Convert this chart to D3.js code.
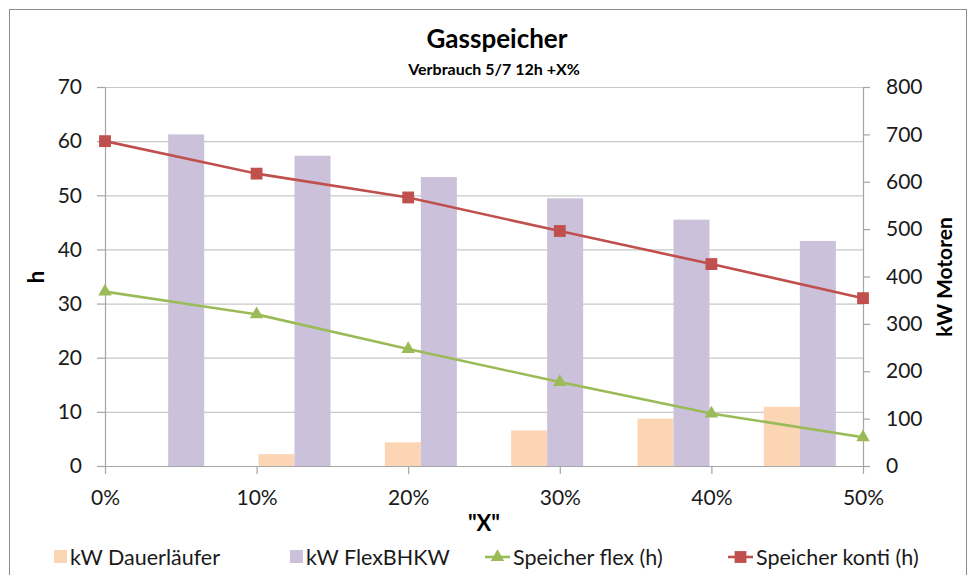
<!DOCTYPE html>
<html>
<head>
<meta charset="utf-8">
<script src="https://cdn.jsdelivr.net/npm/d3@7"></script>
<style>
  body { margin: 0; background: #fff; }
  svg { font-family: Lato, 'Open Sans', sans-serif; }
</style>
</head>
<body>
<script>
// Data
const pct = [0, 10, 20, 30, 40, 50]
const kwDauer = [0, 25, 50, 75, 100, 125]
const kwFlex = [700, 655, 610, 565, 520, 475]
const speicherFlex = [32.2, 28.0, 21.6, 15.5, 9.7, 5.3]
const speicherKonti = [60, 54, 49.6, 43.4, 37.3, 31.0]
const leftTicks = [0, 10, 20, 30, 40, 50, 60, 70]
const rightTicks = [0, 100, 200, 300, 400, 500, 600, 700, 800]
const seriesNames = ['kW Dauerläufer', 'kW FlexBHKW', 'Speicher flex (h)', 'Speicher konti (h)']

// Settings
const width = 975
const height = 575
const plot = { left: 105, right: 863, top: 87, bottom: 466 }
const colDauer = '#FCD5B5'
const colFlex = '#CCC1DA'
const colGreen = '#9BBB59'
const colRed = '#C0504D'
const gridColor = '#c8c8c8'
const axisColor = '#a6a6a6'

const svg = d3.select('body').append('svg')
  .attr('width', width)
  .attr('height', height)

// Outer border
svg.append('rect')
  .attr('x', 9.5).attr('y', 9.5)
  .attr('width', 957).attr('height', 580)
  .attr('fill', 'none')
  .attr('stroke', '#8c8c8c')

// Scales
const x = d3.scaleLinear().domain([0, 50]).range([plot.left, plot.right])
const xBand = d3.scaleBand().domain(pct).range([plot.left, plot.right])
const barW = xBand.bandwidth() * 0.285
const yLeft = d3.scaleLinear().domain([0, 70]).range([plot.bottom, plot.top])
const yRight = d3.scaleLinear().domain([0, 800]).range([plot.bottom, plot.top])

// Gridlines
svg.append('g')
  .selectAll('line')
  .data(leftTicks.filter(d => d > 0))
  .join('line')
  .attr('x1', plot.left).attr('x2', plot.right)
  .attr('y1', d => yLeft(d) + 0.5).attr('y2', d => yLeft(d) + 0.5)
  .attr('stroke', gridColor)
  .attr('stroke-width', 1.2)

// Bars
const bars = svg.append('g')
bars.selectAll('rect.dauer')
  .data(pct)
  .join('rect')
  .attr('class', 'dauer')
  .attr('x', (d) => xBand(d) + xBand.bandwidth() / 2 - barW)
  .attr('y', (d, i) => yRight(kwDauer[i]))
  .attr('width', barW)
  .attr('height', (d, i) => plot.bottom - yRight(kwDauer[i]))
  .attr('fill', colDauer)
bars.selectAll('rect.flex')
  .data(pct)
  .join('rect')
  .attr('class', 'flex')
  .attr('x', (d) => xBand(d) + xBand.bandwidth() / 2)
  .attr('y', (d, i) => yRight(kwFlex[i]))
  .attr('width', barW)
  .attr('height', (d, i) => plot.bottom - yRight(kwFlex[i]))
  .attr('fill', colFlex)

// Axes
const axisStyle = g => {
  g.select('.domain').attr('stroke', axisColor).attr('stroke-width', 1.2)
  g.selectAll('.tick line').attr('stroke', axisColor).attr('stroke-width', 1.2)
  g.selectAll('.tick text')
    .attr('fill', '#1a1a1a')
    .style('font-size', '21px')
    .style('font-family', 'Lato, sans-serif')
}

svg.append('g')
  .attr('transform', `translate(${plot.left},0)`)
  .call(d3.axisLeft(yLeft).tickValues(leftTicks).tickSize(8).tickSizeOuter(0).tickPadding(15))
  .call(axisStyle)

svg.append('g')
  .attr('transform', `translate(${plot.right},0)`)
  .call(d3.axisRight(yRight).tickValues(rightTicks).tickSize(7).tickSizeOuter(0).tickPadding(16))
  .call(axisStyle)

svg.append('g')
  .attr('transform', `translate(0,${plot.bottom})`)
  .call(d3.axisBottom(x).tickValues(pct).tickFormat(d => d + '%').tickSize(8).tickSizeOuter(0).tickPadding(16))
  .call(axisStyle)

// Lines
const lineGen = d3.line()
  .x(d => x(d[0]))
  .y(d => yLeft(d[1]))

const greenData = pct.map((p, i) => [p, speicherFlex[i]])
const redData = pct.map((p, i) => [p, speicherKonti[i]])

svg.append('path')
  .datum(greenData)
  .attr('d', lineGen)
  .attr('fill', 'none')
  .attr('stroke', colGreen)
  .attr('stroke-width', 2.6)

svg.append('path')
  .datum(redData)
  .attr('d', lineGen)
  .attr('fill', 'none')
  .attr('stroke', colRed)
  .attr('stroke-width', 2.6)

const triangle = d3.symbol().type(d3.symbolTriangle).size(80)
const square = d3.symbol().type(d3.symbolSquare).size(140)

svg.append('g')
  .selectAll('path')
  .data(greenData)
  .join('path')
  .attr('d', triangle)
  .attr('transform', d => `translate(${x(d[0])},${yLeft(d[1])})`)
  .attr('fill', colGreen)

svg.append('g')
  .selectAll('path')
  .data(redData)
  .join('path')
  .attr('d', square)
  .attr('transform', d => `translate(${x(d[0])},${yLeft(d[1])})`)
  .attr('fill', colRed)

// Titles
svg.append('text')
  .attr('x', 497).attr('y', 48)
  .attr('text-anchor', 'middle')
  .style('font-size', '26px')
  .style('font-weight', 'bold')
  .text('Gasspeicher')

svg.append('text')
  .attr('x', 494).attr('y', 75)
  .attr('text-anchor', 'middle')
  .style('font-size', '16px')
  .style('font-weight', 'bold')
  .text('Verbrauch 5/7 12h +X%')

svg.append('text')
  .attr('transform', 'translate(44,277) rotate(-90)')
  .attr('text-anchor', 'middle')
  .style('font-size', '22px')
  .style('font-weight', 'bold')
  .text('h')

svg.append('text')
  .attr('transform', 'translate(952,277) rotate(-90)')
  .attr('text-anchor', 'middle')
  .style('font-size', '21px')
  .style('font-weight', 'bold')
  .text('kW Motoren')

svg.append('text')
  .attr('x', (plot.left + plot.right) / 2).attr('y', 531)
  .attr('text-anchor', 'middle')
  .style('font-size', '22px')
  .style('font-weight', 'bold')
  .text('"X"')

// Legend
const legendX = [54, 290, 485, 728]
const legend = svg.append('g').attr('transform', 'translate(0,557)')
seriesNames.forEach((name, i) => {
  const g = legend.append('g').attr('transform', `translate(${legendX[i]},0)`)
  let textX
  if (i < 2) {
    g.append('rect')
      .attr('x', 0).attr('y', -7)
      .attr('width', 13).attr('height', 13)
      .attr('fill', i === 0 ? colDauer : colFlex)
    textX = 16
  } else {
    const c = i === 2 ? colGreen : colRed
    g.append('line')
      .attr('x1', 0).attr('x2', 25).attr('y1', 0).attr('y2', 0)
      .attr('stroke', c).attr('stroke-width', 2.6)
    g.append('path')
      .attr('d', i === 2 ? triangle : square)
      .attr('transform', 'translate(12.5,0)')
      .attr('fill', c)
    textX = 28
  }
  g.append('text')
    .attr('x', textX).attr('y', 8)
    .style('font-size', '21.5px')
    .attr('fill', '#1a1a1a')
    .text(name)
})
</script>
</body>
</html>
